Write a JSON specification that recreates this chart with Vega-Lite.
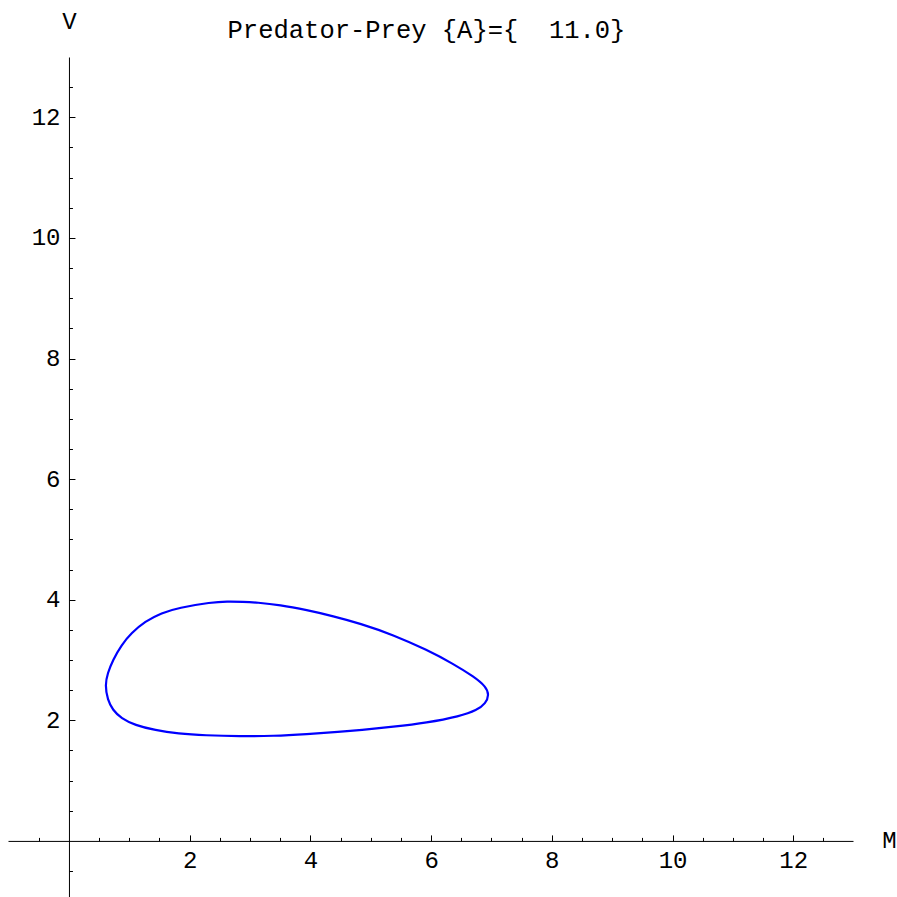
{
  "$schema": "https://vega.github.io/schema/vega-lite/v6.json",
  "width": 845,
  "height": 840,
  "autosize": {"type": "none"},
  "padding": {"left": 8, "top": 57, "right": 44, "bottom": 0},
  "background": "white",
  "title": {
    "text": "Predator-Prey {A}={ \u00a011.0}",
    "font": "Liberation Mono",
    "fontSize": 25.5,
    "fontWeight": "normal",
    "color": "black",
    "anchor": "middle",
    "frame": "group",
    "offset": -54,
    "dx": -4,
    "baseline": "alphabetic"
  },
  "data": {
    "values": [
      {"i": 1, "M": 0.598, "V": 2.586},
      {"i": 2, "M": 0.640, "V": 2.780},
      {"i": 3, "M": 0.728, "V": 3.000},
      {"i": 4, "M": 0.868, "V": 3.249},
      {"i": 5, "M": 1.035, "V": 3.448},
      {"i": 6, "M": 1.259, "V": 3.640},
      {"i": 7, "M": 1.536, "V": 3.782},
      {"i": 8, "M": 1.811, "V": 3.866},
      {"i": 9, "M": 2.364, "V": 3.958},
      {"i": 10, "M": 2.618, "V": 3.972},
      {"i": 11, "M": 2.888, "V": 3.966},
      {"i": 12, "M": 3.110, "V": 3.955},
      {"i": 13, "M": 3.496, "V": 3.914},
      {"i": 14, "M": 3.938, "V": 3.829},
      {"i": 15, "M": 4.379, "V": 3.728},
      {"i": 16, "M": 4.821, "V": 3.606},
      {"i": 17, "M": 5.373, "V": 3.418},
      {"i": 18, "M": 5.926, "V": 3.170},
      {"i": 19, "M": 6.367, "V": 2.938},
      {"i": 20, "M": 6.710, "V": 2.723},
      {"i": 21, "M": 6.910, "V": 2.558},
      {"i": 22, "M": 6.960, "V": 2.420},
      {"i": 23, "M": 6.905, "V": 2.280},
      {"i": 24, "M": 6.760, "V": 2.167},
      {"i": 25, "M": 6.478, "V": 2.068},
      {"i": 26, "M": 5.926, "V": 1.959},
      {"i": 27, "M": 5.373, "V": 1.893},
      {"i": 28, "M": 4.821, "V": 1.838},
      {"i": 29, "M": 4.490, "V": 1.810},
      {"i": 30, "M": 3.938, "V": 1.770},
      {"i": 31, "M": 3.385, "V": 1.740},
      {"i": 32, "M": 2.833, "V": 1.733},
      {"i": 33, "M": 2.253, "V": 1.750},
      {"i": 34, "M": 1.811, "V": 1.780},
      {"i": 35, "M": 1.425, "V": 1.836},
      {"i": 36, "M": 1.093, "V": 1.920},
      {"i": 37, "M": 0.866, "V": 2.032},
      {"i": 38, "M": 0.726, "V": 2.171},
      {"i": 39, "M": 0.640, "V": 2.337}
    ]
  },
  "mark": {"type": "line", "color": "#0000ff", "strokeWidth": 2.2, "interpolate": "basis-closed", "clip": false},
  "encoding": {
    "order": {"field": "i", "type": "quantitative"},
    "x": {
      "field": "M", "type": "quantitative",
      "scale": {"domain": [-1.01, 12.99], "nice": false, "zero": false},
      "axis": {
        "orient": "bottom",
        "offset": {"expr": "scale('y', 0) - height"},
        "values": [-0.5, 0.5, 1, 1.5, 2, 2.5, 3, 3.5, 4, 4.5, 5, 5.5, 6, 6.5, 7, 7.5, 8, 8.5, 9, 9.5, 10, 10.5, 11, 11.5, 12, 12.5],
        "grid": false,
        "domainColor": "black",
        "domainWidth": 1,
        "tickColor": "black",
        "tickWidth": 1,
        "tickSize": {"condition": {"test": "datum.value % 2 === 0", "value": -6}, "value": -3.5},
        "labelExpr": "datum.value % 2 === 0 ? '' + datum.value : ''",
        "labelFont": "Liberation Mono",
        "labelFontSize": 24,
        "labelColor": "black",
        "labelPadding": 25.5,
        "labelBaseline": "middle",
        "labelFlush": false,
        "labelOverlap": false,
        "title": "M",
        "titleX": 881,
        "titleY": 0,
        "titleAlign": "center",
        "titleBaseline": "middle",
        "titleAngle": 0,
        "titleFont": "Liberation Mono",
        "titleFontSize": 24,
        "titleFontWeight": "normal",
        "titleColor": "black"
      }
    },
    "y": {
      "field": "V", "type": "quantitative",
      "scale": {"domain": [-0.93, 13], "nice": false, "zero": false},
      "axis": {
        "orient": "left",
        "offset": {"expr": "-scale('x', 0)"},
        "values": [-0.5, 0.5, 1, 1.5, 2, 2.5, 3, 3.5, 4, 4.5, 5, 5.5, 6, 6.5, 7, 7.5, 8, 8.5, 9, 9.5, 10, 10.5, 11, 11.5, 12, 12.5],
        "grid": false,
        "domainColor": "black",
        "domainWidth": 1,
        "tickColor": "black",
        "tickWidth": 1,
        "tickSize": {"condition": {"test": "datum.value % 2 === 0", "value": -6}, "value": -3.5},
        "labelExpr": "datum.value % 2 === 0 ? '' + datum.value : ''",
        "labelFont": "Liberation Mono",
        "labelFontSize": 24,
        "labelColor": "black",
        "labelPadding": 15,
        "labelFlush": false,
        "labelOverlap": false,
        "title": "V",
        "titleX": 0,
        "titleY": -36,
        "titleAlign": "center",
        "titleBaseline": "middle",
        "titleAngle": 0,
        "titleFont": "Liberation Mono",
        "titleFontSize": 24,
        "titleFontWeight": "normal",
        "titleColor": "black"
      }
    }
  },
  "config": {"view": {"stroke": null}}
}
